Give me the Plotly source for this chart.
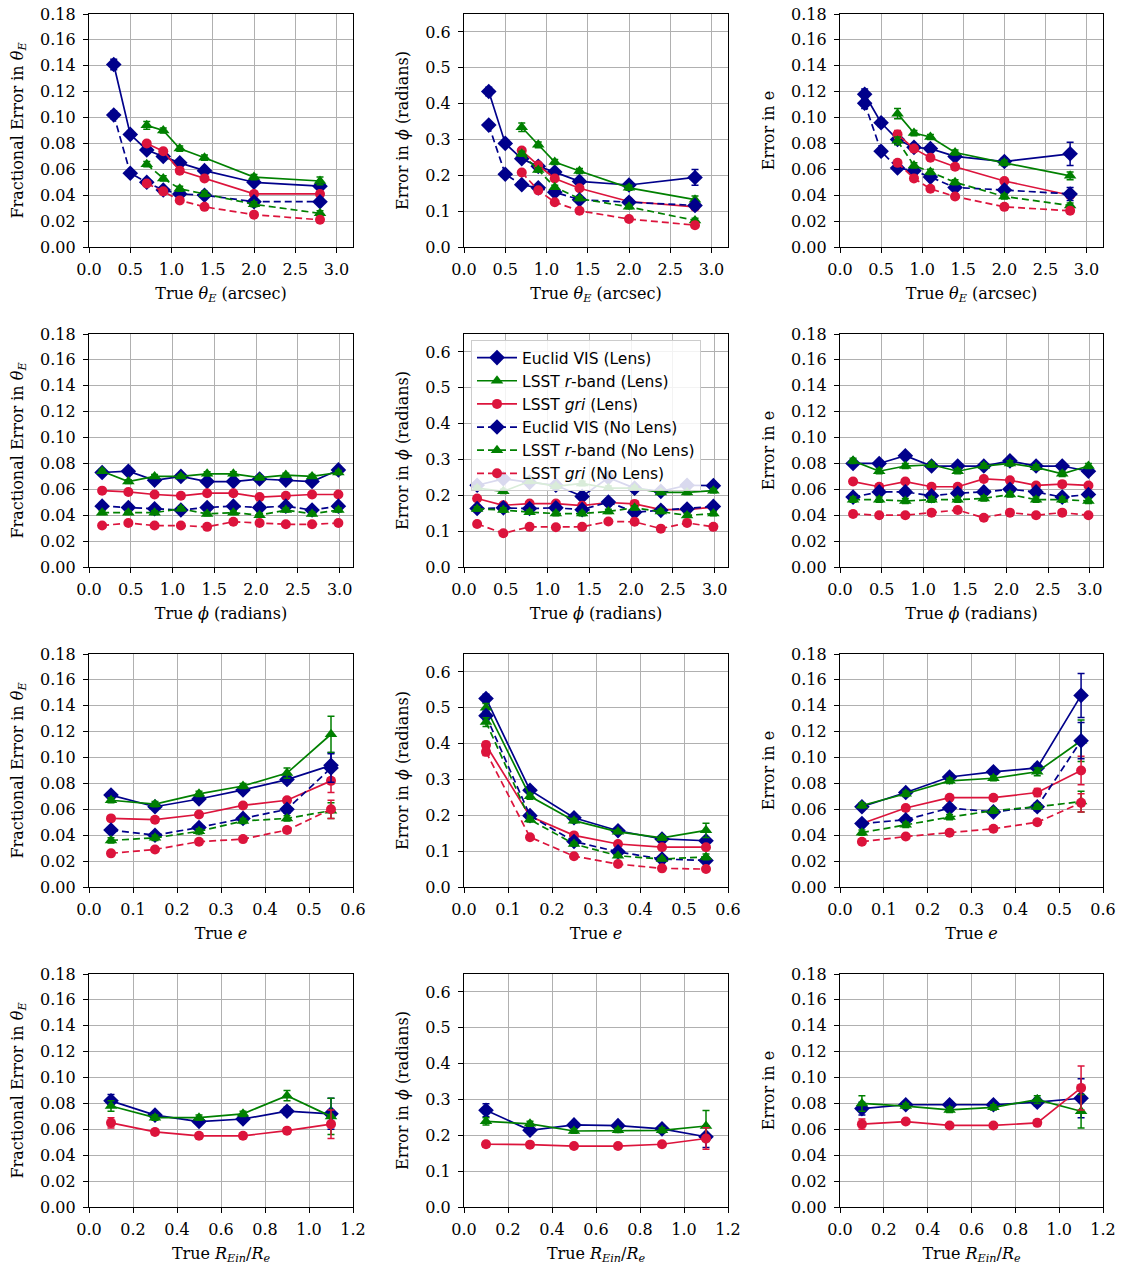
import plotly.graph_objects as go

# ---------------- data ----------------
x_theta = [0.3, 0.5, 0.7, 0.9, 1.1, 1.4, 2.0, 2.8]
x_theta_lsst = [0.7, 0.9, 1.1, 1.4, 2.0, 2.8]
x_phi = [0.157, 0.471, 0.785, 1.100, 1.414, 1.728, 2.042, 2.356, 2.670, 2.985]
x_e = [0.05, 0.15, 0.25, 0.35, 0.45, 0.55]
x_ratio = [0.1, 0.3, 0.5, 0.7, 0.9, 1.1]

series_names = ["Euclid VIS (Lens)", "LSST <i>r</i>-band (Lens)", "LSST <i>gri</i> (Lens)",
                "Euclid VIS (No Lens)", "LSST <i>r</i>-band (No Lens)", "LSST <i>gri</i> (No Lens)"]
series_keys = ["EL", "rL", "gL", "EN", "rN", "gN"]

# Row 1: vs true theta_E
p11_val = {"EL": [0.141, 0.087, 0.075, 0.070, 0.065, 0.059, 0.050, 0.047],
           "rL": [0.094, 0.090, 0.076, 0.069, 0.054, 0.051],
           "gL": [0.080, 0.074, 0.059, 0.053, 0.041, 0.041],
           "EN": [0.102, 0.057, 0.050, 0.044, 0.041, 0.040, 0.035, 0.035],
           "rN": [0.064, 0.053, 0.045, 0.041, 0.033, 0.026],
           "gN": [0.049, 0.043, 0.036, 0.031, 0.025, 0.021]}
p11_err = {"EL": [0.004, 0.002, 0.002, 0.002, 0.002, 0.002, 0.002, 0.002],
           "rL": [0.003, 0.002, 0.002, 0.002, 0.002, 0.003],
           "gL": [0.002, 0.002, 0.002, 0.002, 0.002, 0.002],
           "EN": [0.003, 0.002, 0.002, 0.002, 0.002, 0.002, 0.002, 0.002],
           "rN": [0.002, 0.002, 0.002, 0.002, 0.002, 0.002],
           "gN": [0.0015, 0.0015, 0.0015, 0.0015, 0.0015, 0.0015]}

p12_val = {"EL": [0.434, 0.289, 0.246, 0.225, 0.209, 0.183, 0.173, 0.194],
           "rL": [0.334, 0.285, 0.237, 0.212, 0.165, 0.132],
           "gL": [0.269, 0.228, 0.191, 0.164, 0.127, 0.112],
           "EN": [0.340, 0.203, 0.174, 0.165, 0.153, 0.132, 0.125, 0.116],
           "rN": [0.260, 0.215, 0.167, 0.135, 0.112, 0.074],
           "gN": [0.208, 0.158, 0.125, 0.101, 0.078, 0.061]}
p12_err = {"EL": [0.012, 0.008, 0.007, 0.006, 0.006, 0.006, 0.008, 0.022],
           "rL": [0.012, 0.008, 0.007, 0.007, 0.007, 0.010],
           "gL": [0.008, 0.006, 0.005, 0.005, 0.005, 0.007],
           "EN": [0.008, 0.006, 0.005, 0.005, 0.005, 0.005, 0.006, 0.010],
           "rN": [0.007, 0.006, 0.005, 0.005, 0.005, 0.006],
           "gN": [0.005, 0.004, 0.004, 0.003, 0.003, 0.004]}

p13_val = {"EL": [0.118, 0.096, 0.083, 0.077, 0.076, 0.070, 0.066, 0.072],
           "rL": [0.103, 0.088, 0.085, 0.073, 0.065, 0.055],
           "gL": [0.087, 0.076, 0.069, 0.062, 0.051, 0.040],
           "EN": [0.111, 0.074, 0.061, 0.059, 0.054, 0.046, 0.044, 0.041],
           "rN": [0.082, 0.063, 0.058, 0.050, 0.039, 0.032],
           "gN": [0.065, 0.053, 0.045, 0.039, 0.031, 0.028]}
p13_err = {"EL": [0.004, 0.003, 0.003, 0.002, 0.002, 0.002, 0.003, 0.009],
           "rL": [0.004, 0.002, 0.002, 0.002, 0.002, 0.003],
           "gL": [0.003, 0.002, 0.002, 0.002, 0.002, 0.002],
           "EN": [0.004, 0.002, 0.002, 0.002, 0.002, 0.002, 0.003, 0.005],
           "rN": [0.003, 0.002, 0.002, 0.002, 0.002, 0.002],
           "gN": [0.002, 0.002, 0.002, 0.002, 0.002, 0.002]}

# Row 2: vs true phi
p21_val = {"EL": [0.073, 0.074, 0.067, 0.070, 0.066, 0.066, 0.068, 0.067, 0.066, 0.075],
           "rL": [0.074, 0.066, 0.070, 0.070, 0.072, 0.072, 0.069, 0.071, 0.070, 0.073],
           "gL": [0.059, 0.058, 0.056, 0.055, 0.057, 0.057, 0.054, 0.055, 0.056, 0.056],
           "EN": [0.047, 0.046, 0.045, 0.044, 0.046, 0.047, 0.046, 0.047, 0.044, 0.047],
           "rN": [0.042, 0.042, 0.042, 0.045, 0.041, 0.042, 0.040, 0.044, 0.041, 0.044],
           "gN": [0.032, 0.034, 0.032, 0.032, 0.031, 0.035, 0.034, 0.033, 0.033, 0.034]}
p21_err = {k: [0.0015] * 10 for k in series_keys}

p22_val = {"EL": [0.228, 0.246, 0.236, 0.228, 0.197, 0.249, 0.220, 0.211, 0.228, 0.227],
           "rL": [0.220, 0.211, 0.239, 0.225, 0.233, 0.220, 0.220, 0.208, 0.208, 0.213],
           "gL": [0.191, 0.172, 0.177, 0.177, 0.171, 0.180, 0.176, 0.160, 0.160, 0.167],
           "EN": [0.163, 0.165, 0.163, 0.165, 0.160, 0.181, 0.153, 0.158, 0.162, 0.169],
           "rN": [0.162, 0.159, 0.153, 0.149, 0.149, 0.155, 0.165, 0.155, 0.144, 0.149],
           "gN": [0.120, 0.094, 0.112, 0.111, 0.112, 0.127, 0.126, 0.107, 0.123, 0.112]}
p22_err = {k: [0.006] * 10 for k in series_keys}

p23_val = {"EL": [0.080, 0.080, 0.086, 0.078, 0.078, 0.078, 0.082, 0.078, 0.078, 0.074],
           "rL": [0.082, 0.074, 0.078, 0.079, 0.074, 0.078, 0.080, 0.077, 0.072, 0.078],
           "gL": [0.066, 0.062, 0.066, 0.062, 0.062, 0.068, 0.067, 0.063, 0.064, 0.063],
           "EN": [0.054, 0.058, 0.058, 0.055, 0.057, 0.058, 0.060, 0.058, 0.054, 0.056],
           "rN": [0.052, 0.052, 0.051, 0.052, 0.052, 0.053, 0.056, 0.052, 0.052, 0.051],
           "gN": [0.041, 0.040, 0.040, 0.042, 0.044, 0.038, 0.042, 0.040, 0.042, 0.040]}
p23_err = {k: [0.002] * 10 for k in series_keys}

# Row 3: vs true e
p31_val = {"EL": [0.071, 0.062, 0.068, 0.075, 0.083, 0.094],
           "rL": [0.067, 0.064, 0.072, 0.078, 0.088, 0.118],
           "gL": [0.053, 0.052, 0.056, 0.063, 0.067, 0.082],
           "EN": [0.044, 0.040, 0.046, 0.053, 0.060, 0.092],
           "rN": [0.036, 0.038, 0.043, 0.051, 0.053, 0.059],
           "gN": [0.026, 0.029, 0.035, 0.037, 0.044, 0.060]}
p31_err = {"EL": [0.002, 0.002, 0.002, 0.002, 0.003, 0.010],
           "rL": [0.002, 0.002, 0.002, 0.002, 0.004, 0.014],
           "gL": [0.002, 0.002, 0.002, 0.002, 0.002, 0.009],
           "EN": [0.002, 0.002, 0.002, 0.002, 0.003, 0.011],
           "rN": [0.002, 0.002, 0.002, 0.002, 0.002, 0.006],
           "gN": [0.0015, 0.0015, 0.0015, 0.0015, 0.002, 0.007]}

p32_val = {"EL": [0.526, 0.270, 0.193, 0.157, 0.134, 0.129],
           "rL": [0.500, 0.253, 0.185, 0.154, 0.137, 0.158],
           "gL": [0.396, 0.197, 0.144, 0.120, 0.111, 0.111],
           "EN": [0.478, 0.199, 0.127, 0.098, 0.078, 0.074],
           "rN": [0.460, 0.188, 0.120, 0.087, 0.078, 0.084],
           "gN": [0.377, 0.139, 0.086, 0.064, 0.052, 0.050]}
p32_err = {"EL": [0.012, 0.008, 0.006, 0.005, 0.005, 0.007],
           "rL": [0.012, 0.008, 0.006, 0.005, 0.006, 0.020],
           "gL": [0.010, 0.006, 0.005, 0.004, 0.004, 0.006],
           "EN": [0.012, 0.007, 0.005, 0.004, 0.004, 0.005],
           "rN": [0.012, 0.007, 0.005, 0.004, 0.004, 0.008],
           "gN": [0.010, 0.005, 0.004, 0.003, 0.003, 0.004]}

p33_val = {"EL": [0.062, 0.073, 0.085, 0.089, 0.092, 0.148],
           "rL": [0.063, 0.072, 0.082, 0.084, 0.089, 0.113],
           "gL": [0.049, 0.061, 0.069, 0.069, 0.073, 0.090],
           "EN": [0.049, 0.052, 0.061, 0.058, 0.062, 0.113],
           "rN": [0.042, 0.048, 0.054, 0.059, 0.062, 0.066],
           "gN": [0.035, 0.039, 0.042, 0.045, 0.050, 0.065]}
p33_err = {"EL": [0.002, 0.002, 0.002, 0.002, 0.003, 0.017],
           "rL": [0.002, 0.002, 0.002, 0.002, 0.003, 0.016],
           "gL": [0.002, 0.002, 0.002, 0.002, 0.003, 0.011],
           "EN": [0.002, 0.002, 0.002, 0.002, 0.003, 0.014],
           "rN": [0.002, 0.002, 0.002, 0.002, 0.002, 0.008],
           "gN": [0.002, 0.002, 0.002, 0.002, 0.002, 0.007]}

# Row 4: vs true R_Ein/R_e (Lens only)
p41_val = {"EL": [0.082, 0.071, 0.066, 0.068, 0.074, 0.072],
           "rL": [0.078, 0.069, 0.069, 0.072, 0.086, 0.070],
           "gL": [0.065, 0.058, 0.055, 0.055, 0.059, 0.064]}
p41_err = {"EL": [0.005, 0.002, 0.002, 0.002, 0.003, 0.012],
           "rL": [0.004, 0.002, 0.002, 0.002, 0.004, 0.014],
           "gL": [0.004, 0.002, 0.002, 0.002, 0.002, 0.011]}

p42_val = {"EL": [0.270, 0.214, 0.229, 0.227, 0.218, 0.196],
           "rL": [0.239, 0.232, 0.212, 0.214, 0.214, 0.226],
           "gL": [0.175, 0.174, 0.170, 0.170, 0.175, 0.191]}
p42_err = {"EL": [0.018, 0.008, 0.007, 0.007, 0.008, 0.030],
           "rL": [0.010, 0.007, 0.006, 0.006, 0.007, 0.043],
           "gL": [0.008, 0.005, 0.005, 0.005, 0.005, 0.030]}

p43_val = {"EL": [0.076, 0.079, 0.079, 0.079, 0.081, 0.084],
           "rL": [0.080, 0.078, 0.075, 0.077, 0.083, 0.074],
           "gL": [0.064, 0.066, 0.063, 0.063, 0.065, 0.092]}
p43_err = {"EL": [0.005, 0.002, 0.002, 0.002, 0.003, 0.015],
           "rL": [0.006, 0.002, 0.002, 0.002, 0.003, 0.013],
           "gL": [0.004, 0.002, 0.002, 0.002, 0.002, 0.017]}

# ---------------- styling ----------------
colors = {"EL": "#00008B", "rL": "#008000", "gL": "#DC143C",
          "EN": "#00008B", "rN": "#008000", "gN": "#DC143C"}
symbols = {"EL": "diamond", "rL": "triangle-up", "gL": "circle",
           "EN": "diamond", "rN": "triangle-up", "gN": "circle"}
msizes = {"diamond": 12, "triangle-up": 11, "circle": 10}
dashes = {"EL": "solid", "rL": "solid", "gL": "solid",
          "EN": "7px,4px", "rN": "7px,4px", "gN": "7px,4px"}

W, H = 1125, 1275
col_px = [(89, 353), (464, 728), (840, 1103)]
row_px = [(14, 247), (334, 567), (654, 887), (974, 1207)]

panels = [
    [(p11_val, p11_err), (p12_val, p12_err), (p13_val, p13_err)],
    [(p21_val, p21_err), (p22_val, p22_err), (p23_val, p23_err)],
    [(p31_val, p31_err), (p32_val, p32_err), (p33_val, p33_err)],
    [(p41_val, p41_err), (p42_val, p42_err), (p43_val, p43_err)],
]

xtitles = ["True <i>θ<sub>E</sub></i> (arcsec)", "True <i>ϕ</i> (radians)",
           "True <i>e</i>", "True <i>R<sub>Ein</sub></i>/<i>R<sub>e</sub></i>"]
ytitles = ["Fractional Error in <i>θ<sub>E</sub></i>", "Error in <i>ϕ</i> (radians)", "Error in e"]
xranges = [[0, 3.2], [0, 3.16], [0, 0.6], [0, 1.2]]
xdticks = [0.5, 0.5, 0.1, 0.2]
yranges = [[0, 0.18], [0, 0.65], [0, 0.18]]
ydticks = [0.02, 0.1, 0.02]
yfmts = [".2f", ".1f", ".2f"]


def xvals_for(row, key):
    if row == 0:
        return x_theta if key in ("EL", "EN") else x_theta_lsst
    if row == 1:
        return x_phi
    if row == 2:
        return x_e
    return x_ratio


fig = go.Figure()
serif = "DejaVu Serif, serif"
layout = dict(width=W, height=H, margin=dict(l=0, r=0, t=0, b=0),
              font=dict(family=serif, size=16, color="black"),
              paper_bgcolor="white", plot_bgcolor="white", autosize=False)

for r in range(4):
    for c in range(3):
        idx = r * 3 + c + 1
        xa = "x" if idx == 1 else f"x{idx}"
        ya = "y" if idx == 1 else f"y{idx}"
        vals, errs = panels[r][c]
        for k, name in zip(series_keys, series_names):
            if k not in vals:
                continue
            fig.add_trace(go.Scatter(
                x=xvals_for(r, k), y=vals[k],
                error_y=dict(type="data", array=errs[k], visible=True,
                             color=colors[k], thickness=1.5, width=3.5),
                mode="lines+markers", name=name,
                line=dict(color=colors[k], width=1.7, dash=dashes[k]),
                marker=dict(symbol=symbols[k], size=msizes[symbols[k]], color=colors[k],
                            line=dict(width=0)),
                legendgroup=k, showlegend=(idx == 1),
                xaxis=xa, yaxis=ya))
        x0, x1 = col_px[c]
        y0, y1 = row_px[r]
        axis_common = dict(showline=True, linecolor="black", linewidth=1.2, mirror=True,
                           ticks="outside", ticklen=5, tickwidth=1.2, tickcolor="black",
                           showgrid=True, gridcolor="#b0b0b0", gridwidth=1, zeroline=False,
                           tickfont=dict(family=serif, size=16, color="black"),
                           automargin=False)
        layout["xaxis" if idx == 1 else f"xaxis{idx}"] = dict(
            axis_common, domain=[x0 / W, x1 / W], range=xranges[r], dtick=xdticks[r], tick0=0,
            tickformat=".1f", anchor=ya, ticklabelstandoff=3,
            title=dict(text=xtitles[r], font=dict(family=serif, size=16, color="black"), standoff=9))
        layout["yaxis" if idx == 1 else f"yaxis{idx}"] = dict(
            axis_common, domain=[1 - y1 / H, 1 - y0 / H], range=yranges[c], dtick=ydticks[c], tick0=0,
            tickformat=yfmts[c], anchor=xa, ticklabelstandoff=4,
            title=dict(text=ytitles[c], font=dict(family=serif, size=16, color="black"), standoff=12))

layout["legend"] = dict(x=471 / W, y=1 - 340 / H, xanchor="left", yanchor="top",
                        bgcolor="rgba(255,255,255,0.85)", bordercolor="#cccccc", borderwidth=1,
                        font=dict(family="DejaVu Sans", size=15.5, color="black"),
                        tracegroupgap=0, itemwidth=40)
fig.update_layout(**layout)
fig.write_html("out.html")
